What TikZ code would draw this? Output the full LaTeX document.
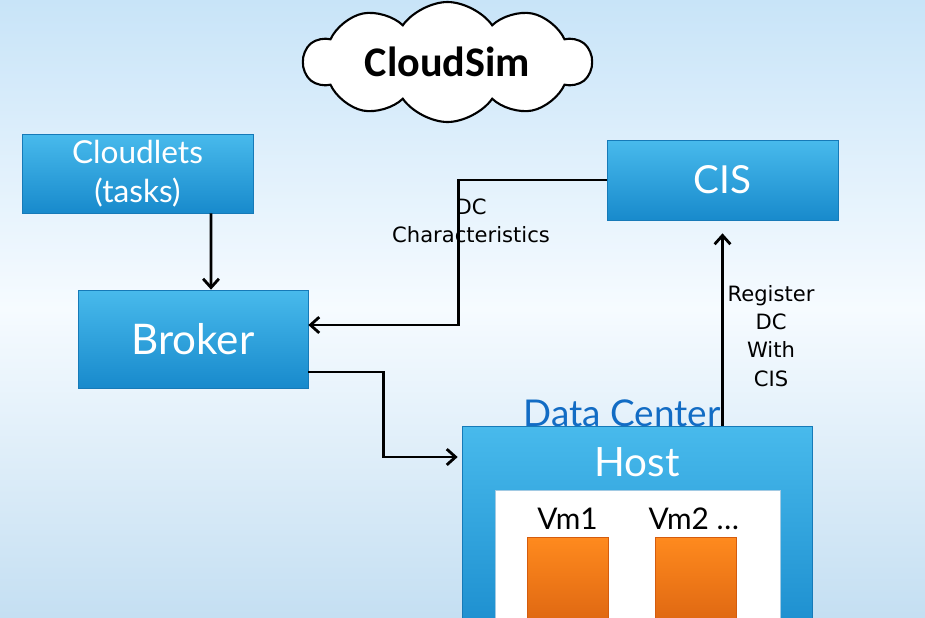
\documentclass[tikz,border=0pt]{standalone}
\usepackage{fontspec}
\setmainfont{Lato}
\newfontfamily\labelfont{DejaVu Sans}
\newfontfamily\titlefont{Carlito}
\usetikzlibrary{positioning, arrows.meta, shapes.symbols}
\definecolor{boxtop}{RGB}{72,186,236}
\definecolor{boxbottom}{RGB}{24,138,204}
\definecolor{boxborder}{RGB}{22,122,184}
\definecolor{vmtop}{RGB}{255,138,30}
\definecolor{vmbottom}{RGB}{212,92,14}
\definecolor{dcblue}{RGB}{18,108,196}
\definecolor{bgblue}{RGB}{200,228,248}
\definecolor{bgwhite}{RGB}{246,251,255}

\begin{document}
\begin{tikzpicture}[
  % arrow styles
  >={Straight Barb[length=5pt,width=9pt]},
  flow/.style={->, line width=1.6pt, black},
  % blue box style
  bluebox/.style={
    draw=boxborder, top color=boxtop, bottom color=boxbottom,
    text=white, align=center, inner sep=0pt
  },
  % orange vm box
  vmbox/.style={
    draw=vmbottom, top color=vmtop, bottom color=vmbottom,
    minimum width=1.62cm, minimum height=2.26cm, inner sep=0pt
  },
  note/.style={font=\labelfont\fontsize{12}{16}\selectfont, align=center}
]

% ── Background: whole slide, y=0 at top, everything below is negative ───────
\clip (0,0) rectangle (18.5,-12.34);
\shade[top color=bgblue, bottom color=bgblue!95!gray, middle color=bgwhite]
  (0,0) rectangle (18.5,-12.34);

% ─── Title cloud ────────────────────────────────────────────────────────────
\node[cloud, cloud puffs=10, cloud puff arc=110, cloud ignores aspect, draw,
      fill=white, line width=1.2pt, minimum width=5.75cm, minimum height=2.4cm,
      font=\titlefont\bfseries\fontsize{24}{28}\selectfont] (cloudsim)
  at (8.95,-1.24) {CloudSim};

% ─── Boxes ──────────────────────────────────────────────────────────────────
\node[bluebox, minimum width=4.62cm, minimum height=1.58cm,
      font=\fontsize{18}{22}\selectfont] (cloudlets)
  at (2.75,-3.47) {Cloudlets\\(tasks)};

\node[bluebox, minimum width=4.6cm, minimum height=1.96cm,
      font=\fontsize{24}{28}\selectfont] (broker)
  at (3.86,-6.78) {Broker};

\node[bluebox, minimum width=4.62cm, minimum height=1.6cm,
      font=\fontsize{22}{26}\selectfont] (cis)
  at (14.45,-3.6) {CIS};

% Data center / host (runs off the bottom edge)
\node[bluebox, minimum width=7.0cm, minimum height=4.48cm] (dc)
  at (12.74,-10.76) {};
\node[text=white, font=\fontsize{23}{27}\selectfont] (host)
  at (12.74,-9.24) {Host};
\node[fill=white, draw=boxborder!40, minimum width=5.7cm,
      minimum height=3.2cm, inner sep=0pt] (inner) at (12.75,-11.4) {};
\node[text=dcblue, font=\fontsize{21}{25}\selectfont] (dclabel)
  at (12.44,-8.26) {Data Center};

% VMs
\node[vmbox] (vm1) at (11.35,-11.87) {};
\node[vmbox] (vm2) at (13.92,-11.87) {};
\node[font=\fontsize{17}{20}\selectfont, above=0.02cm of vm1] (vm1lbl) {Vm1};
\node[font=\fontsize{17}{20}\selectfont, anchor=south west, inner xsep=0pt,
      xshift=-0.14cm, yshift=0.02cm] (vm2lbl) at (vm2.north west) {Vm2 \dots};

% ─── Connectors ─────────────────────────────────────────────────────────────
\draw[flow] ([xshift=1.47cm]cloudlets.south) -- ([xshift=0.36cm]broker.north);
\draw[flow] (cis.west) -- ++(-2.96,0) |- ([yshift=0.28cm]broker.east);
\draw[flow, shorten >=0.08cm]
  ([yshift=-0.66cm]broker.east) -- ++(1.5,0) |- ([yshift=1.62cm]dc.west);
\draw[flow, shorten >=0.26cm] (cis.south |- dc.north) -- (cis.south);

% labels
\node[note] (dcchar) at (9.42,-4.42) {DC\\Characteristics};
\node[note] (register) at (15.42,-6.72) {Register\\DC\\With\\CIS};

\end{tikzpicture}
\end{document}
